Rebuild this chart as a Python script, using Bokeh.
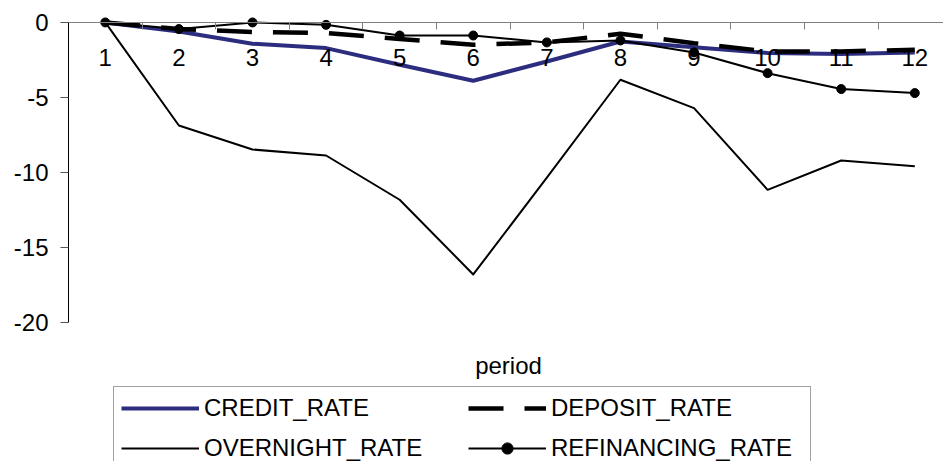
from bokeh.plotting import figure
from bokeh.models import Range1d, FixedTicker, Legend, LegendItem, Label, LinearAxis
from bokeh.embed import file_html
from bokeh.resources import INLINE

periods = [1, 2, 3, 4, 5, 6, 7, 8, 9, 10, 11, 12]
credit_rate = [0, -0.6, -1.42, -1.71, -2.82, -3.89, -2.6, -1.27, -1.66, -2.04, -2.1, -2.0]
deposit_rate = [0, -0.44, -0.64, -0.71, -1.1, -1.49, -1.33, -0.75, -1.38, -1.93, -1.93, -1.82]
overnight_rate = [0, -6.87, -8.47, -8.87, -11.82, -16.8, -10.35, -3.82, -5.71, -11.16, -9.2, -9.58]
refinancing_rate = [0, -0.44, 0, -0.16, -0.87, -0.87, -1.33, -1.2, -2.0, -3.38, -4.44, -4.71]
y_ticks = [0, -5, -10, -15, -20]
y_tick_labels = ["0", "-5", "-10", "-15", "-20"]
x_tick_labels = [str(k) for k in periods]
x_title = "period"
series_names = ["CREDIT_RATE", "DEPOSIT_RATE", "OVERNIGHT_RATE", "REFINANCING_RATE"]

FONT = "Liberation Sans"
FS = "24px"

# frame extends below the value axis so that the legend area sits inside it
p = figure(width=943, height=461, output_backend="svg", toolbar_location=None,
           x_range=Range1d(0.5, 12.39), y_range=Range1d(-29.27, 0.93),
           min_border_left=68, min_border_right=0, min_border_top=8, min_border_bottom=0,
           x_axis_location=None, y_axis_location=None)
p.outline_line_color = None
p.background_fill_color = "white"
for g in p.grid:
    g.visible = False

minor = [k - 0.5 for k in periods] + [periods[-1] + 0.5]
xaxis = LinearAxis(fixed_location=0, ticker=FixedTicker(ticks=periods, minor_ticks=minor))
xaxis.major_label_overrides = {k: s for k, s in zip(periods, x_tick_labels)}
xaxis.axis_line_color = "#808080"
xaxis.axis_line_width = 1
xaxis.major_tick_line_color = None
xaxis.major_tick_out = 0
xaxis.major_tick_in = 0
xaxis.minor_tick_line_color = "#808080"
xaxis.minor_tick_out = 7
xaxis.minor_tick_in = 0
xaxis.major_label_standoff = 20
xaxis.major_label_text_font = FONT
xaxis.major_label_text_font_size = FS
xaxis.major_label_text_color = "black"
p.add_layout(xaxis, "below")

yaxis = LinearAxis(ticker=FixedTicker(ticks=y_ticks, minor_ticks=[]), bounds=(-20, 0))
yaxis.major_label_overrides = {t: s for t, s in zip(y_ticks, y_tick_labels)}
yaxis.axis_line_color = "black"
yaxis.major_tick_line_color = "#555555"
yaxis.major_tick_out = 8
yaxis.major_tick_in = 0
yaxis.minor_tick_line_color = None
yaxis.major_label_standoff = 12
yaxis.major_label_text_font = FONT
yaxis.major_label_text_font_size = FS
yaxis.major_label_text_color = "black"
p.add_layout(yaxis, "left")

p.add_layout(Label(text=x_title, x=440, y=96, x_units="screen", y_units="screen",
                   text_align="center", text_baseline="middle", text_font=FONT,
                   text_font_size=FS, text_color="black"))

r1 = p.line(periods, credit_rate, line_color="#2D2D80", line_width=4, line_join="round")
r2 = p.line(periods, deposit_rate, line_color="black", line_width=4.5, line_dash="35 21")
r3 = p.line(periods, overnight_rate, line_color="black", line_width=2, line_join="round")
r4 = p.line(periods, refinancing_rate, line_color="black", line_width=2, line_join="round")
r5 = p.scatter(periods, refinancing_rate, marker="circle", size=9, fill_color="black", line_color="black")

legend = Legend(items=[LegendItem(label=series_names[0], renderers=[r1]),
                       LegendItem(label=series_names[1], renderers=[r2]),
                       LegendItem(label=series_names[2], renderers=[r3]),
                       LegendItem(label=series_names[3], renderers=[r4, r5])],
                location=(45, -9), orientation="horizontal", ncols=2)
legend.label_text_font = FONT
legend.label_text_font_size = FS
legend.label_text_color = "black"
legend.glyph_width = 78
legend.glyph_height = 28
legend.label_height = 28
legend.label_width = 252
legend.label_standoff = 5
legend.spacing = 12
legend.padding = 7
legend.margin = 0
legend.border_line_color = "#444444"
legend.border_line_width = 1
legend.background_fill_color = "white"
legend.background_fill_alpha = 1
p.add_layout(legend, "center")

open("out.html", "w").write(file_html(p, INLINE))
